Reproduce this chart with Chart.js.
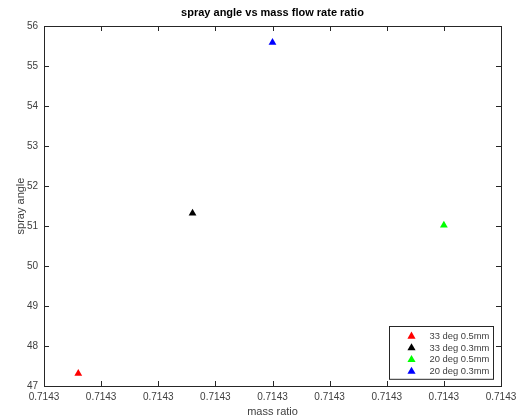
<!DOCTYPE html>
<html>
<head>
    <meta charset="utf-8" />
    <title>spray angle vs mass flow rate ratio</title>
    <style>
        body { margin: 0; background: #fff; }
    </style>
</head>
<body>
    <canvas id="scatterChart" width="523" height="417"></canvas>

    <script src="https://cdn.jsdelivr.net/npm/chart.js@4/dist/chart.umd.min.js"></script>
    <script>
        // series in plotting order
        const seriesNames = ['33 deg 0.5mm', '33 deg 0.3mm', '20 deg 0.5mm', '20 deg 0.3mm'];
        const seriesColors = ['#ff0000', '#000000', '#00ff00', '#0000ff'];
        const massRatio = [0.7142812, 0.7142852, 0.7142940, 0.7142880];
        const sprayAngle = [47.31, 51.32, 51.02, 55.59];

        // ticks (all x labels round to 0.7143)
        const xTicks = [0.714280, 0.714282, 0.714284, 0.714286, 0.714288, 0.714290, 0.714292, 0.714294, 0.714296];
        const yTicks = [47, 48, 49, 50, 51, 52, 53, 54, 55, 56];

        const chartTitle = 'spray angle vs mass flow rate ratio';
        const axisColor = '#262626';
        const textColor = '#404040';
        const fontFamily = '"Liberation Sans", Arial, Helvetica, sans-serif';

        function triangle(ctx, x, y, r, color) {
            ctx.beginPath();
            ctx.moveTo(x, y - r);
            ctx.lineTo(x + r * 0.95, y + r * 0.65);
            ctx.lineTo(x - r * 0.95, y + r * 0.65);
            ctx.closePath();
            ctx.fillStyle = color;
            ctx.fill();
        }

        // title centred over the axes, not the whole canvas
        const axesTitle = {
            id: 'axesTitle',
            afterDraw(chart) {
                const ctx = chart.ctx;
                const area = chart.chartArea;
                ctx.save();
                ctx.font = 'bold 11px ' + fontFamily;
                ctx.fillStyle = '#000';
                ctx.textAlign = 'center';
                ctx.textBaseline = 'middle';
                ctx.fillText(chartTitle, (area.left + area.right) / 2, 13);
                ctx.restore();
            }
        };

        // matlab style box with inward ticks on all four sides
        const axesBox = {
            id: 'axesBox',
            afterDraw(chart) {
                const ctx = chart.ctx;
                const area = chart.chartArea;
                const xs = chart.scales.x, ys = chart.scales.y;
                const len = 5;
                ctx.save();
                ctx.strokeStyle = axisColor;
                ctx.lineWidth = 1;
                ctx.beginPath();
                xTicks.forEach((v) => {
                    const px = Math.round(xs.getPixelForValue(v)) + 0.5;
                    ctx.moveTo(px, area.bottom); ctx.lineTo(px, area.bottom - len);
                    ctx.moveTo(px, area.top); ctx.lineTo(px, area.top + len);
                });
                yTicks.forEach((v) => {
                    const py = Math.round(ys.getPixelForValue(v)) + 0.5;
                    ctx.moveTo(area.left, py); ctx.lineTo(area.left + len, py);
                    ctx.moveTo(area.right, py); ctx.lineTo(area.right - len, py);
                });
                ctx.stroke();
                ctx.strokeRect(Math.round(area.left) + 0.5, Math.round(area.top) + 0.5,
                    Math.round(area.right - area.left), Math.round(area.bottom - area.top));
                ctx.restore();
            }
        };

        // legend box in the lower right corner of the axes
        const insideLegend = {
            id: 'insideLegend',
            afterDraw(chart) {
                const ctx = chart.ctx;
                const area = chart.chartArea;
                const w = 104, rowH = 11.7, h = seriesNames.length * rowH + 6;
                const x0 = Math.round(area.right - 8 - w) + 0.5;
                const y0 = Math.round(area.bottom - 7 - h) + 0.5;
                ctx.save();
                ctx.fillStyle = '#fff';
                ctx.fillRect(x0, y0, w, h);
                ctx.strokeStyle = '#262626';
                ctx.lineWidth = 1;
                ctx.strokeRect(x0, y0, w, h);
                ctx.font = '9.4px ' + fontFamily;
                ctx.textBaseline = 'middle';
                seriesNames.forEach((name, i) => {
                    const cy = y0 + 3 + rowH * (i + 0.5) + 1;
                    triangle(ctx, x0 + 22, cy - 0.5, 4.3, seriesColors[i]);
                    ctx.fillStyle = textColor;
                    ctx.fillText(name, x0 + 40, cy);
                });
                ctx.restore();
            }
        };

        function init() {
            const datasets = seriesNames.map((name, i) => ({
                label: name,
                data: [{ x: massRatio[i], y: sprayAngle[i] }],
                pointStyle: 'triangle',
                radius: 4.5,
                backgroundColor: seriesColors[i],
                borderColor: seriesColors[i],
                borderWidth: 0
            }));

            new Chart(document.getElementById('scatterChart'), {
                type: 'scatter',
                data: { datasets: datasets },
                plugins: [axesTitle, axesBox, insideLegend],
                options: {
                    responsive: false,
                    animation: false,
                    layout: { padding: { left: 0, right: 22, top: 26, bottom: 0 } },
                    plugins: {
                        legend: { display: false },
                        tooltip: { enabled: false },
                        title: { display: false }
                    },
                    scales: {
                        x: {
                            type: 'linear',
                            min: xTicks[0],
                            max: xTicks[xTicks.length - 1],
                            afterBuildTicks: (s) => { s.ticks = xTicks.map((v) => ({ value: v })); },
                            afterFit: (s) => { s.height = 31; },
                            grid: { display: false, drawTicks: false },
                            border: { display: false },
                            ticks: {
                                autoSkip: false,
                                maxRotation: 0,
                                padding: 5,
                                color: textColor,
                                font: { family: fontFamily, size: 10 },
                                callback: (v) => Number(v).toFixed(4)
                            },
                            title: {
                                display: true,
                                text: 'mass ratio',
                                color: textColor,
                                font: { family: fontFamily, size: 11 },
                                padding: { top: 0, bottom: -2 }
                            }
                        },
                        y: {
                            min: yTicks[0],
                            max: yTicks[yTicks.length - 1],
                            afterBuildTicks: (s) => { s.ticks = yTicks.map((v) => ({ value: v })); },
                            afterFit: (s) => { s.width = 44; },
                            grid: { display: false, drawTicks: false },
                            border: { display: false },
                            ticks: {
                                padding: 6,
                                color: textColor,
                                font: { family: fontFamily, size: 10 }
                            },
                            title: {
                                display: true,
                                text: 'spray angle',
                                color: textColor,
                                font: { family: fontFamily, size: 11 },
                                padding: { top: 14, bottom: 0 }
                            }
                        }
                    }
                }
            });
        }

        init();
    </script>
</body>
</html>
